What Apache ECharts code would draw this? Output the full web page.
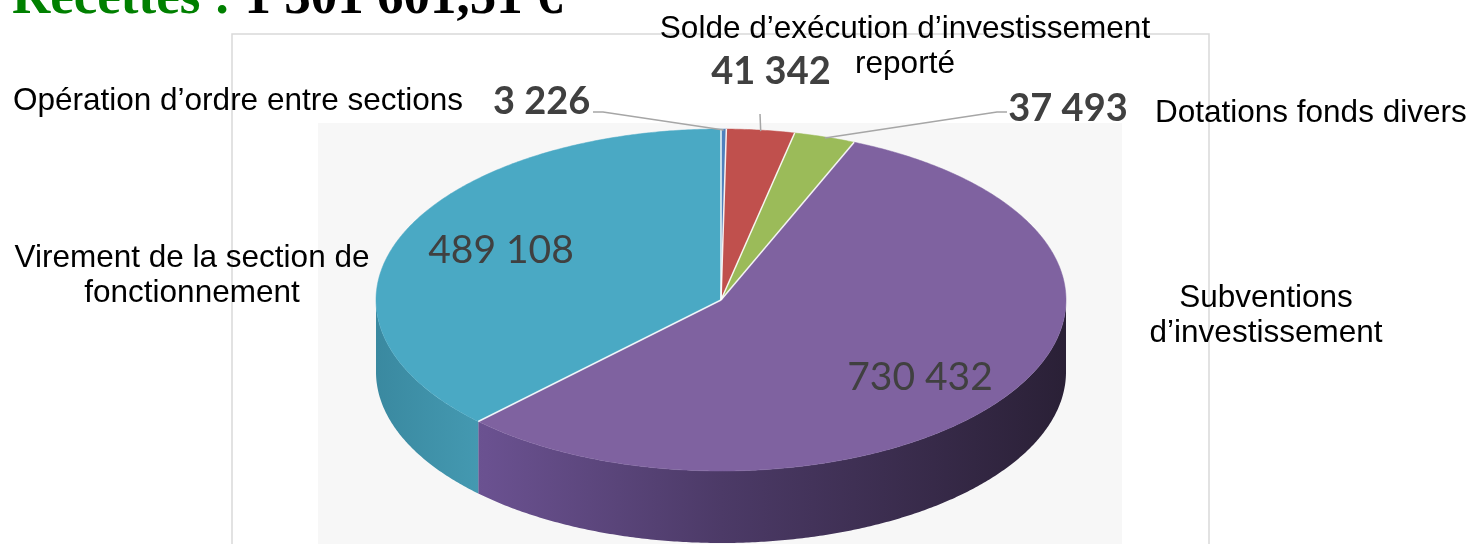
<!DOCTYPE html>
<html><head><meta charset="utf-8">
<script src="https://cdn.jsdelivr.net/npm/echarts@6/dist/echarts.min.js"></script>
<style>html,body{margin:0;padding:0;background:#fff;overflow:hidden}#c{width:1475px;height:544px}</style>
</head><body><div id="c"></div>
<script>
// ---------- data ----------
const titleLabel = "Recettes :";
const titleAmount = "1 301 601,51 €";
const categories = [
  "Opération d’ordre entre sections",
  "Solde d’exécution d’investissement\nreporté",
  "Dotations fonds divers",
  "Subventions\nd’investissement",
  "Virement de la section de\nfonctionnement"
];
const values = [3226, 41342, 37493, 730432, 489108];

// ---------- styles / layout ----------
const topColors = ["#4f81bd", "#c0504d", "#9bbb59", "#7f62a0", "#4aa9c4"];
const sideStops = [
  [[0, "#3d679b"], [1, "#2a476d"]],
  [[0, "#9c3f3d"], [1, "#6e2a29"]],
  [[0, "#7f9a47"], [1, "#566a2f"]],
  [[0, "#735a9b"], [0.16, "#6a5190"], [0.5, "#4c3a67"], [1, "#2a2036"]],
  [[0, "#3a89a0"], [0.15, "#4499b1"], [1, "#2d6f82"]]
];
const PIE = { cx: 721, cy: 300, rx: 345, ry: 171, depth: 72 };
const NAME_FONT = '31.5px "Liberation Sans", Arial, sans-serif';
const VAL_BOLD = 'bold 38px Lato, "Open Sans", sans-serif';
const VAL_REG = '39px Lato, "Open Sans", sans-serif';
const LAYOUT = [
  { name: { x: 13, y: 101, align: 'left' }, val: { x: 493, y: 102, align: 'left', font: VAL_BOLD }, leader: [[593, 112], [603, 112]] },
  { name: { x: 905, y: 47, align: 'center' }, val: { x: 771, y: 72, align: 'center', font: VAL_BOLD }, leader: [[760, 114]] },
  { name: { x: 1155, y: 113, align: 'left' }, val: { x: 1068, y: 109, align: 'center', font: VAL_BOLD }, leader: [[1007, 112], [997, 112]] },
  { name: { x: 1266, y: 316, align: 'center' }, val: { x: 920, y: 377, align: 'center', font: VAL_REG } },
  { name: { x: 192, y: 276, align: 'center' }, val: { x: 501, y: 250, align: 'center', font: VAL_REG } }
];

const fmt = v => String(v).replace(/\B(?=(\d{3})+(?!\d))/g, ' ');
const total = values.reduce((a, b) => a + b, 0);
const toRad = d => d * Math.PI / 180;
function pt(deg, dy) {
  const r = toRad(deg);
  return [PIE.cx + PIE.rx * Math.sin(r), PIE.cy - PIE.ry * Math.cos(r) + (dy || 0)];
}
function arc(a0, a1, dy) {
  const pts = [];
  const n = Math.max(2, Math.ceil((a1 - a0) / 0.5));
  for (let k = 0; k <= n; k++) pts.push(pt(a0 + (a1 - a0) * k / n, dy));
  return pts;
}

function renderItem(params, api) {
  const i = params.dataIndex;
  let before = 0;
  for (let k = 0; k < i; k++) before += values[k];
  const v = api.value(0);
  const a0 = before / total * 360;
  const a1 = (before + v) / total * 360;
  const children = [];
  // side wall (front half only: 90..270)
  const lo = Math.max(a0, 90), hi = Math.min(a1, 270);
  if (hi > lo) {
    const topEdge = arc(lo, hi, 0);
    const botEdge = arc(lo, hi, PIE.depth).reverse();
    children.push({
      type: 'polygon', z2: 1,
      shape: { points: topEdge.concat(botEdge) },
      style: {
        fill: new echarts.graphic.LinearGradient(PIE.cx - PIE.rx, 0, PIE.cx + PIE.rx, 0,
          sideStops[i].map(s => ({ offset: s[0], color: s[1] })), true)
      }
    });
  }
  // top sector
  children.push({
    type: 'polygon', z2: 5,
    shape: { points: [[PIE.cx, PIE.cy]].concat(arc(a0, a1, 0)) },
    style: { fill: topColors[i], stroke: topColors[i], lineWidth: 0.5 }
  });
  // white separator at start edge
  children.push({
    type: 'line', z2: 6,
    shape: { x1: PIE.cx, y1: PIE.cy, x2: pt(a0)[0], y2: pt(a0)[1] },
    style: { stroke: 'rgba(255,255,255,0.9)', lineWidth: 1.5 }
  });
  const L = LAYOUT[i];
  // leader line
  if (L.leader) {
    const end = pt((a0 + a1) / 2, 1);
    children.push({
      type: 'polyline', z2: 7,
      shape: { points: L.leader.concat([end]) },
      style: { stroke: '#a6a6a6', lineWidth: 1.5, fill: null }
    });
  }
  // value label
  children.push({
    type: 'text', z2: 10,
    style: { text: fmt(v), x: L.val.x, y: L.val.y, font: L.val.font, fill: '#404040',
      align: L.val.align, textAlign: L.val.align, verticalAlign: 'middle', textVerticalAlign: 'middle' }
  });
  // category label
  children.push({
    type: 'text', z2: 10,
    style: { text: categories[i], x: L.name.x, y: L.name.y, font: NAME_FONT, fill: '#000', lineHeight: 35,
      align: L.name.align, textAlign: L.name.align, verticalAlign: 'middle', textVerticalAlign: 'middle' }
  });
  return { type: 'group', children };
}

const chart = echarts.init(document.getElementById('c'), null, { renderer: 'canvas' });
chart.setOption({
  animation: false,
  backgroundColor: '#ffffff',
  graphic: [
    { type: 'rect', z: 0, shape: { x: 232, y: 34, width: 977, height: 540 }, style: { fill: '#ffffff', stroke: '#d9d9d9', lineWidth: 1.5 } },
    { type: 'rect', z: 0, shape: { x: 318, y: 123, width: 804, height: 430 }, style: { fill: '#f7f7f7' } },
    { type: 'text', z: 20, style: {
        text: '{g|' + titleLabel + '} {k|' + titleAmount + '}', x: 12, y: -1,
        font: 'bold 53px "Liberation Serif", "Times New Roman", serif',
        verticalAlign: 'middle', textVerticalAlign: 'middle',
        rich: {
          g: { fill: '#008000', font: 'bold 53px "Liberation Serif", "Times New Roman", serif' },
          k: { fill: '#000000', font: 'bold 53px "Liberation Serif", "Times New Roman", serif' }
        }
    } }
  ],
  series: [{
    type: 'custom',
    coordinateSystem: 'none',
    z: 5,
    data: values,
    renderItem: renderItem
  }]
});
</script>
</body></html>
